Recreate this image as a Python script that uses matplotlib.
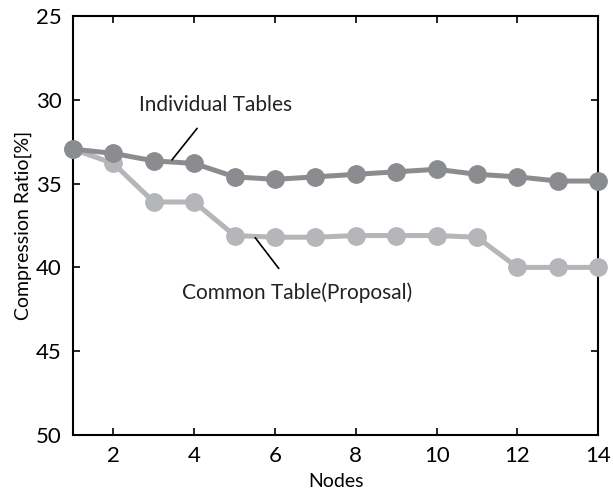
import numpy as np
from matplotlib import pyplot as plt

plt.rcParams["font.family"] = ["Lato", "DejaVu Sans"]

nodes = np.arange(1, 15)
individual = [32.95, 33.2, 33.65, 33.8, 34.6, 34.75, 34.6, 34.45, 34.3, 34.15, 34.45, 34.6, 34.85, 34.85]
common = [32.95, 33.8, 36.1, 36.1, 38.1, 38.2, 38.2, 38.1, 38.1, 38.1, 38.2, 40.0, 40.0, 40.0]

dark = "#8b8c8f"
light = "#b5b6b9"

fig = plt.figure(figsize=(6.13, 4.95), dpi=100)
ax = fig.add_axes([0.119, 0.121, 0.857, 0.847])

ax.plot(nodes, common, color=light, lw=3.6, marker="o", ms=12.5, clip_on=False, zorder=3)
ax.plot(nodes, individual, color=dark, lw=3.6, marker="o", ms=12.5, clip_on=False, zorder=4)

ax.set_xlim(1, 14)
ax.set_ylim(50, 25)
ax.set_xticks([2, 4, 6, 8, 10, 12, 14])
ax.set_yticks([25, 30, 35, 40, 45, 50])

for s in ax.spines.values():
    s.set_linewidth(1.5)
ax.tick_params(direction="in", length=5, width=1.2, labelsize=16,
               top=True, right=True, colors="black")
ax.tick_params(axis="x", pad=8)
ax.tick_params(axis="y", pad=8)

ax.set_xlabel("Nodes", fontsize=14, labelpad=5)
ax.set_ylabel("Compression Ratio[%]", fontsize=14, labelpad=3)

ax.annotate("Individual Tables", xy=(3.45, 33.59), xytext=(4.54, 30.3),
            fontsize=15, ha="center", va="center", color="#222222",
            arrowprops=dict(arrowstyle="-", color="black", lw=1.2,
                            shrinkA=10, shrinkB=0), zorder=5)
ax.annotate("Common Table(Proposal)", xy=(5.51, 38.23), xytext=(6.55, 41.5),
            fontsize=15, ha="center", va="center", color="#222222",
            arrowprops=dict(arrowstyle="-", color="black", lw=1.2,
                            shrinkA=10, shrinkB=0), zorder=5)

plt.savefig("out.png", dpi=100)
